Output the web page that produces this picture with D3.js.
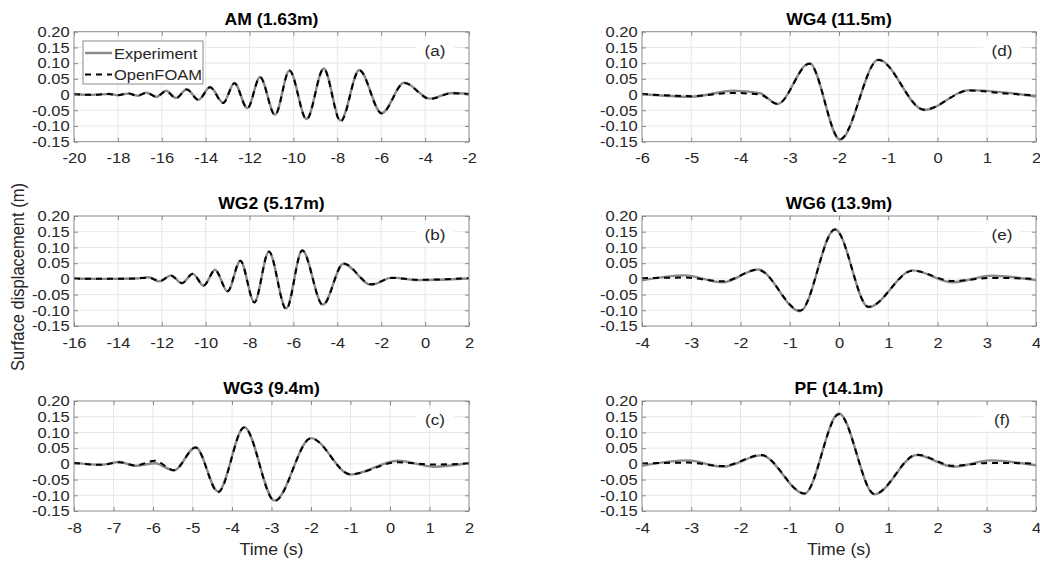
<!DOCTYPE html>
<html>
<head>
<meta charset="utf-8">
<style>
  body { margin: 0; background: #fff; }
  svg text { font-family: "Liberation Sans", Arial, sans-serif; }
</style>
</head>
<body>
<svg id="fig" width="1040" height="561"></svg>
<script src="https://d3js.org/d3.v7.min.js"></script>
<script>
// gauge records: time (s), measured and simulated surface elevation (m)
const amTime = [-20, -19.2, -18.4, -18.0, -17.55, -17.1, -16.7, -16.25, -15.8, -15.35, -14.86, -14.33, -13.8, -13.2, -12.69, -12.1, -11.52, -10.84, -10.18, -9.4, -8.62, -7.85, -7.0, -5.98, -4.95, -3.78, -2.8, -2.0];
const amExp  = [0.001, -0.001, 0.002, -0.002, 0.003, -0.004, 0.006, -0.008, 0.012, -0.011, 0.017, -0.017, 0.024, -0.026, 0.037, -0.043, 0.056, -0.064, 0.077, -0.078, 0.083, -0.083, 0.078, -0.059, 0.038, -0.013, 0.005, 0.002];
const amFoam = [0.001, -0.001, 0.002, -0.002, 0.004, -0.004, 0.006, -0.007, 0.011, -0.012, 0.016, -0.017, 0.023, -0.027, 0.036, -0.044, 0.055, -0.065, 0.076, -0.079, 0.082, -0.086, 0.077, -0.060, 0.037, -0.014, 0.004, 0.001];

const wg2Time = [-16, -14.6, -13.2, -12.6, -12.1, -11.58, -11.08, -10.59, -10.09, -9.57, -9.0, -8.42, -7.78, -7.12, -6.33, -5.6, -4.66, -3.72, -2.46, -1.5, -0.35, 2];
const wg2Exp  = [0.001, 0.000, 0.001, 0.005, -0.008, 0.011, -0.014, 0.016, -0.022, 0.029, -0.040, 0.057, -0.074, 0.086, -0.094, 0.091, -0.082, 0.048, -0.019, 0.004, -0.004, 0.001];
const wg2Foam = [0.001, 0.000, 0.001, 0.004, -0.007, 0.010, -0.013, 0.016, -0.021, 0.028, -0.039, 0.058, -0.075, 0.087, -0.097, 0.090, -0.083, 0.049, -0.017, 0.003, -0.003, 0.002];

const wg3Time = [-8, -7.3, -6.85, -6.45, -5.95, -5.47, -4.92, -4.35, -3.69, -2.92, -2.0, -1.0, 0.2, 1.1, 2];
const wg3Exp  = [0.003, -0.003, 0.006, -0.006, 0.002, -0.021, 0.053, -0.088, 0.117, -0.117, 0.082, -0.034, 0.010, -0.009, 0.003];
const wg3Foam = [0.003, -0.003, 0.005, -0.005, 0.010, -0.020, 0.052, -0.090, 0.116, -0.118, 0.081, -0.033, 0.005, -0.002, 0.001];

const wg4Time = [-6, -5.0, -4.15, -3.6, -3.25, -2.6, -1.98, -1.2, -0.27, 0.65, 1.4, 2];
const wg4Exp  = [0.002, -0.007, 0.012, 0.004, -0.030, 0.100, -0.144, 0.111, -0.049, 0.014, 0.006, -0.006];
const wg4Foam = [0.002, -0.005, 0.005, 0.000, -0.030, 0.098, -0.142, 0.110, -0.048, 0.013, 0.003, -0.002];

const wg6Time = [-4, -3.14, -2.36, -1.65, -0.79, -0.08, 0.6, 1.5, 2.3, 3.1, 4];
const wg6Exp  = [-0.005, 0.011, -0.011, 0.030, -0.103, 0.158, -0.090, 0.027, -0.011, 0.010, -0.004];
const wg6Foam = [0.002, 0.004, -0.008, 0.029, -0.101, 0.157, -0.089, 0.026, -0.007, 0.003, 0.000];

const pfTime = [-4, -3.07, -2.36, -1.58, -0.7, 0.0, 0.72, 1.58, 2.32, 3.08, 4];
const pfExp  = [-0.006, 0.011, -0.009, 0.027, -0.095, 0.160, -0.097, 0.028, -0.009, 0.011, -0.005];
const pfFoam = [0.001, 0.004, -0.007, 0.028, -0.094, 0.158, -0.096, 0.029, -0.006, 0.003, 0.001];

// tick values
const yTicks = [-0.15, -0.10, -0.05, 0, 0.05, 0.10, 0.15, 0.20];
const amTicks = [-20, -18, -16, -14, -12, -10, -8, -6, -4, -2];
const wg2Ticks = [-16, -14, -12, -10, -8, -6, -4, -2, 0, 2];
const wg3Ticks = [-8, -7, -6, -5, -4, -3, -2, -1, 0, 1, 2];
const wg4Ticks = [-6, -5, -4, -3, -2, -1, 0, 1, 2];
const wg6Ticks = [-4, -3, -2, -1, 0, 1, 2, 3, 4];
const pfTicks = [-4, -3, -2, -1, 0, 1, 2, 3, 4];

const seriesNames = ['Experiment', 'OpenFOAM'];

const panels = [
  {title: 'AM (1.63m)', tag: '(a)', t: amTime, exp: amExp, foam: amFoam, ticks: amTicks, col: 0, row: 0, legend: true},
  {title: 'WG2 (5.17m)', tag: '(b)', t: wg2Time, exp: wg2Exp, foam: wg2Foam, ticks: wg2Ticks, col: 0, row: 1},
  {title: 'WG3 (9.4m)', tag: '(c)', t: wg3Time, exp: wg3Exp, foam: wg3Foam, ticks: wg3Ticks, col: 0, row: 2},
  {title: 'WG4 (11.5m)', tag: '(d)', t: wg4Time, exp: wg4Exp, foam: wg4Foam, ticks: wg4Ticks, col: 1, row: 0},
  {title: 'WG6 (13.9m)', tag: '(e)', t: wg6Time, exp: wg6Exp, foam: wg6Foam, ticks: wg6Ticks, col: 1, row: 1},
  {title: 'PF (14.1m)', tag: '(f)', t: pfTime, exp: pfExp, foam: pfFoam, ticks: pfTicks, col: 1, row: 2}
];

// layout
const colX = [74, 642];
const colW = [395, 394];
const rowY = [31.7, 216, 401];
const plotH = 110;
const SX = 1.1;             // text is drawn slightly wide
const boxColor = '#8a8a8a';
const gridColor = '#e8e8e8';
const labelColor = '#262626';
const expColor = '#8a8a8a';

const svg = d3.select('#fig');

function place(sel, x, y, extra) {
  return sel.attr('transform', `translate(${x},${y}) scale(${SX},1)` + (extra || ''));
}

panels.forEach((p, k) => {
  const x0 = colX[p.col], w = colW[p.col], y0 = rowY[p.row];
  const x = d3.scaleLinear().domain([p.ticks[0], p.ticks[p.ticks.length - 1]]).range([x0, x0 + w]);
  const y = d3.scaleLinear().domain([-0.15, 0.20]).range([y0 + plotH, y0]);
  const g = svg.append('g');

  g.append('clipPath').attr('id', 'clip' + k)
    .append('rect').attr('x', x0).attr('y', y0).attr('width', w).attr('height', plotH);

  // grid
  g.append('g').selectAll('line').data(p.ticks.slice(1, -1)).join('line')
    .attr('x1', d => x(d)).attr('x2', d => x(d))
    .attr('y1', y0).attr('y2', y0 + plotH)
    .attr('stroke', gridColor).attr('stroke-width', 1);
  g.append('g').selectAll('line').data(yTicks.slice(1, -1)).join('line')
    .attr('x1', x0).attr('x2', x0 + w)
    .attr('y1', d => y(d)).attr('y2', d => y(d))
    .attr('stroke', gridColor).attr('stroke-width', 1);

  // curves
  const line = d3.line()
    .x((d, i) => x(p.t[i]))
    .y(d => y(d))
    .curve(d3.curveMonotoneX);
  const curves = g.append('g').attr('clip-path', `url(#clip${k})`);
  curves.append('path').attr('d', line(p.exp))
    .attr('fill', 'none').attr('stroke', expColor).attr('stroke-width', 2.4);
  curves.append('path').attr('d', line(p.foam))
    .attr('fill', 'none').attr('stroke', '#000').attr('stroke-width', 2)
    .attr('stroke-dasharray', '6,5');

  // axes
  const xAxis = g.append('g').attr('transform', `translate(0,${y0 + plotH})`)
    .call(d3.axisBottom(x).tickValues(p.ticks).tickSize(-4).tickPadding(11).tickFormat(d => String(d)));
  const yAxis = g.append('g').attr('transform', `translate(${x0},0)`)
    .call(d3.axisLeft(y).tickValues(yTicks).tickSize(-4).tickPadding(4)
      .tickFormat(d => d === 0 ? '0' : d.toFixed(2)));
  g.append('g').attr('transform', `translate(0,${y0})`)
    .call(d3.axisTop(x).tickValues(p.ticks).tickSize(-4).tickFormat(''));
  g.append('g').attr('transform', `translate(${x0 + w},0)`)
    .call(d3.axisRight(y).tickValues(yTicks).tickSize(-4).tickFormat(''));

  g.selectAll('.domain').remove();
  g.selectAll('.tick line').attr('stroke', boxColor);
  [xAxis, yAxis].forEach(a => {
    a.attr('font-family', null).attr('font-size', null);
    a.selectAll('text').attr('fill', labelColor).style('font-size', '15px')
      .attr('transform', `scale(${SX},1)`);
  });

  g.append('rect').attr('x', x0).attr('y', y0).attr('width', w).attr('height', plotH)
    .attr('fill', 'none').attr('stroke', boxColor).attr('stroke-width', 1);

  // title
  place(g.append('text'), x0 + w / 2, y0 - 7)
    .attr('text-anchor', 'middle').style('font-size', '16px').style('font-weight', 'bold')
    .attr('fill', '#000').text(p.title);

  // panel tag
  const tx = x0 + w - 34, ty = y(0.15) + 3;
  g.append('rect').attr('x', tx - 19).attr('y', ty - 11).attr('width', 38).attr('height', 22).attr('fill', '#fff');
  place(g.append('text'), tx, ty + 5.5)
    .attr('text-anchor', 'middle').style('font-size', '15.5px').attr('fill', labelColor).text(p.tag);

  if (p.legend) {
    const lg = g.append('g');
    lg.append('rect').attr('x', 83).attr('y', 41).attr('width', 120).attr('height', 43)
      .attr('fill', '#fff').attr('stroke', boxColor).attr('stroke-width', 1);
    seriesNames.forEach((name, i) => {
      const ly = 53 + i * 21.5;
      lg.append('line').attr('x1', 85).attr('x2', 112).attr('y1', ly).attr('y2', ly)
        .attr('stroke', i === 0 ? expColor : '#000').attr('stroke-width', i === 0 ? 2.4 : 2)
        .attr('stroke-dasharray', i === 0 ? null : '6,5');
      place(lg.append('text'), 114, ly + 5.5).style('font-size', '15px').attr('fill', labelColor).text(name);
    });
  }

  if (p.row === 2) {
    place(svg.append('text'), x0 + w / 2, 555)
      .attr('text-anchor', 'middle').style('font-size', '16px').attr('fill', labelColor).text('Time (s)');
  }
});

place(svg.append('text'), 24, 277, ' rotate(-90)')
  .attr('text-anchor', 'middle').style('font-size', '16.5px').attr('fill', labelColor)
  .text('Surface displacement (m)');
</script>
</body>
</html>
